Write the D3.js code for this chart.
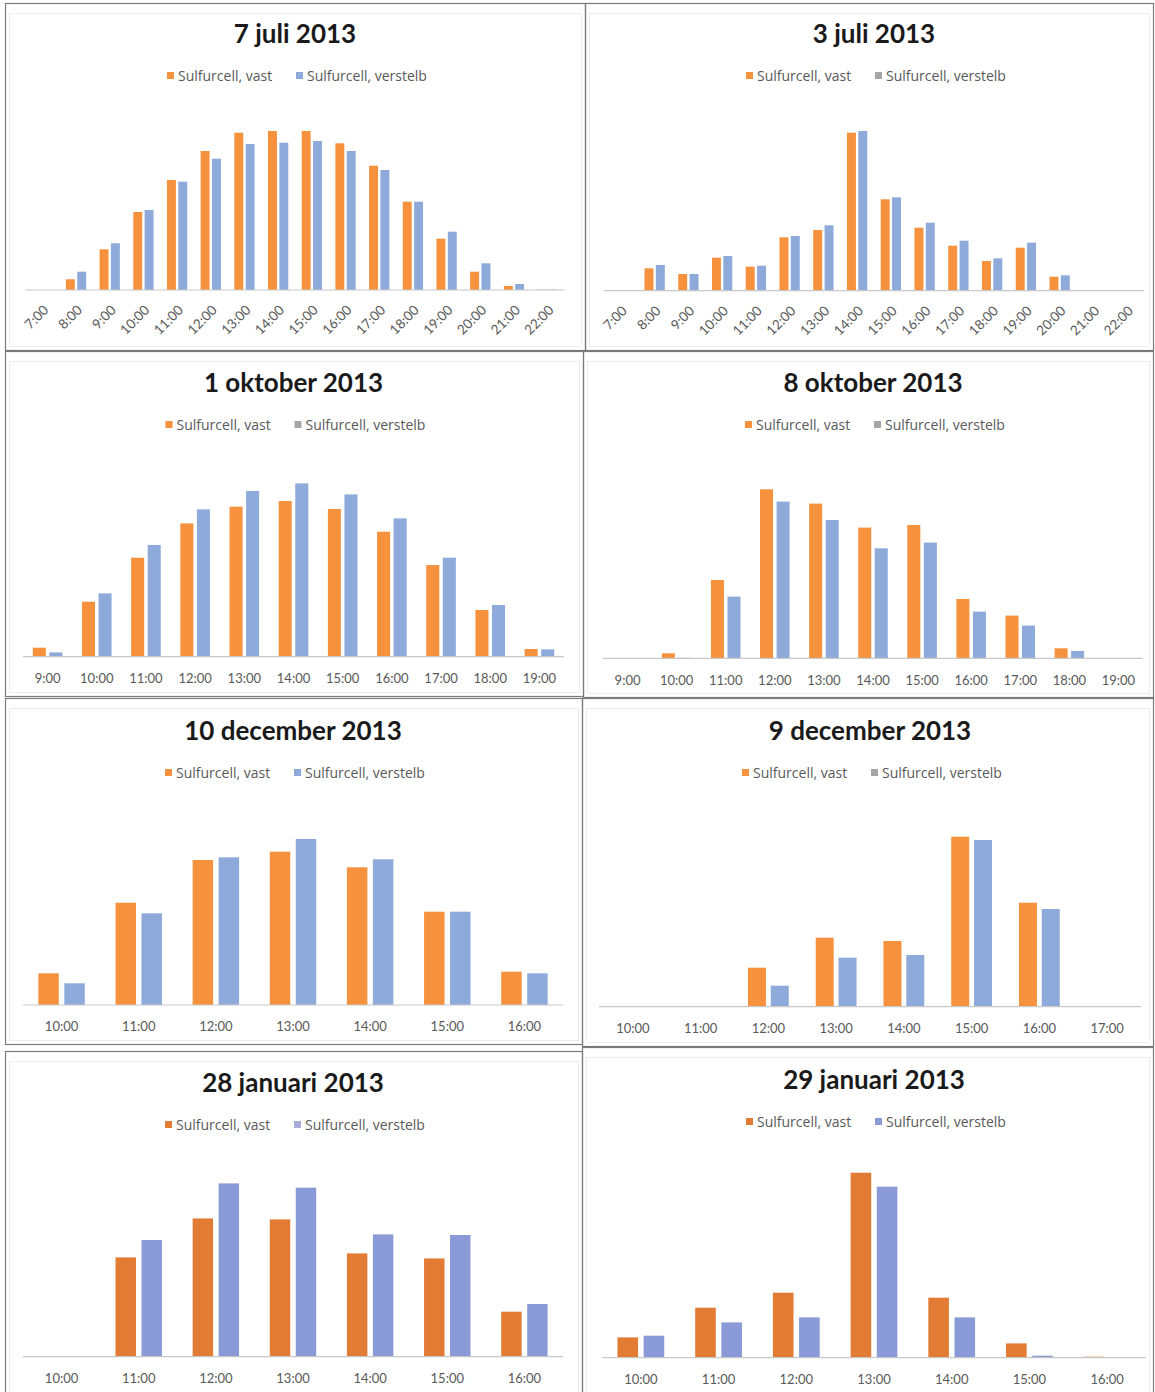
<!DOCTYPE html>
<html>
<head>
<meta charset="utf-8">
<script src="https://cdn.jsdelivr.net/npm/d3@7"></script>
<style>
  body { margin: 0; background: #fff; }
  svg { display: block; }
  .title { font-family: Lato, "Open Sans", sans-serif; font-weight: bold; fill: #1a1a1a; }
  .legend text { font-family: "Open Sans", Lato, sans-serif; fill: #595959; }
  .tick text { font-family: Lato, "Open Sans", sans-serif; fill: #595959; }
</style>
</head>
<body>
<svg id="page" width="1155" height="1392"></svg>
<script>
// series names
var seriesNames = ["Sulfurcell, vast", "Sulfurcell, verstelb"];

// hours on the category axes
var hoursJuli = ["7:00","8:00","9:00","10:00","11:00","12:00","13:00","14:00","15:00","16:00","17:00","18:00","19:00","20:00","21:00","22:00"];
var hoursOkt = ["9:00","10:00","11:00","12:00","13:00","14:00","15:00","16:00","17:00","18:00","19:00"];
var hoursDec10 = ["10:00","11:00","12:00","13:00","14:00","15:00","16:00"];
var hoursDec9 = ["10:00","11:00","12:00","13:00","14:00","15:00","16:00","17:00"];
var hoursJan = ["10:00","11:00","12:00","13:00","14:00","15:00","16:00"];

// values (relative units, no axis printed)
var vast7Juli     = [0, 10.7, 40.7, 78, 110, 139, 157.3, 159, 159, 146.7, 124.3, 88.3, 51.3, 18.3, 4, 0.3];
var verstelb7Juli = [0, 18.3, 46.7, 80, 108.3, 131.3, 146, 147.3, 149, 139, 120, 88.3, 58.3, 26.7, 6, 0.5];
var vast3Juli     = [0, 22.4, 16.7, 33, 24, 53.4, 60.7, 158, 91.4, 63, 45, 29.7, 43, 14, 0.5, 0];
var verstelb3Juli = [0, 25.7, 16.7, 34.7, 25, 54.7, 65.4, 159.7, 93.4, 68, 50, 32.4, 48, 15.4, 0.5, 0];
var vast1Okt      = [9, 55, 99, 133.3, 150, 155.7, 147.7, 125, 91.7, 46.7, 7.7];
var verstelb1Okt  = [4.3, 63.3, 111.7, 147.3, 165.7, 173.3, 162.3, 138.3, 99, 51.7, 7.3];
var vast8Okt      = [0, 5, 78.3, 169, 154.7, 130.7, 133.3, 59.3, 42.7, 10, 0];
var verstelb8Okt  = [0, 0.5, 61.7, 156.7, 138.3, 110, 115.7, 46.7, 32.7, 7.3, 0];
var vast10Dec     = [31.7, 102.3, 145, 153.3, 137.7, 93.3, 33.3];
var verstelb10Dec = [21.7, 91.7, 147.7, 166, 145.7, 93.3, 31.7];
var vast9Dec      = [0, 0, 39, 69, 65.7, 170, 104, 0.7];
var verstelb9Dec  = [0, 0, 21, 49, 51.7, 166.7, 97.7, 0.5];
var vast28Jan     = [0.5, 99.3, 138.3, 137.3, 103.3, 98.3, 45];
var verstelb28Jan = [0, 116.7, 173.3, 169, 122.3, 121.7, 52.7];
var vast29Jan     = [20.3, 50, 65, 185, 60, 14.3, 1];
var verstelb29Jan = [22, 35.3, 40.3, 171, 40.3, 2, 0.5];

var titles = ["7 juli 2013", "3 juli 2013", "1 oktober 2013", "8 oktober 2013",
              "10 december 2013", "9 december 2013", "28 januari 2013", "29 januari 2013"];

var yMax = 200;

// panel layout: frame box, plot x-range, axis baseline, title and legend rows
var panels = [
  {box:[5,3,585,350],     x0:25.5, x1:564.5, axis:290,    titleY:43,   legendY:76,   rotate:true,  cats:hoursJuli,  a:vast7Juli,  b:verstelb7Juli, pal:"light", key:"blue"},
  {box:[585,3,1153,350],  x0:604,  x1:1144,  axis:290.7,  titleY:43,   legendY:76,   rotate:true,  cats:hoursJuli,  a:vast3Juli,  b:verstelb3Juli, pal:"light", key:"gray"},
  {box:[5,351,583,696],   x0:23,   x1:564,   axis:656.7,  titleY:392,  legendY:425,  rotate:false, cats:hoursOkt,   a:vast1Okt,   b:verstelb1Okt,  pal:"light", key:"gray"},
  {box:[583,351,1153,697],x0:603,  x1:1143,  axis:658.3,  titleY:392,  legendY:425,  rotate:false, cats:hoursOkt,   a:vast8Okt,   b:verstelb8Okt,  pal:"light", key:"gray"},
  {box:[5,698,582,1044],  x0:23,   x1:563,   axis:1005,   titleY:740,  legendY:773,  rotate:false, cats:hoursDec10, a:vast10Dec,  b:verstelb10Dec, pal:"light", key:"blue"},
  {box:[582,698,1153,1046],x0:599, x1:1141,  axis:1006.7, titleY:740,  legendY:773,  rotate:false, cats:hoursDec9,  a:vast9Dec,   b:verstelb9Dec,  pal:"light", key:"gray"},
  {box:[5,1051,582,1400], x0:23,   x1:563,   axis:1356.7, titleY:1092, legendY:1125, rotate:false, cats:hoursJan,   a:vast28Jan,  b:verstelb28Jan, pal:"dark",  key:"lav"},
  {box:[582,1047,1153,1400],x0:602,x1:1146,  axis:1357.7, titleY:1089, legendY:1122, rotate:false, cats:hoursJan,   a:vast29Jan,  b:verstelb29Jan, pal:"dark",  key:"blue"}
];

var palettes = {
  light: ["#F6923D", "#8EAADB"],
  dark:  ["#E27B33", "#8A9AD7"]
};
var keyColors = {blue: null, gray: "#A6A6A6", lav: "#A9AED8"};

var svg = d3.select("#page");

panels.forEach(function(p, i){
  var g = svg.append("g");
  var colors = palettes[p.pal];
  var cx = (p.x0 + p.x1) / 2;

  // frame
  g.append("rect")
    .attr("x", p.box[0] + 0.5).attr("y", p.box[1] + 0.5)
    .attr("width", p.box[2] - p.box[0]).attr("height", p.box[3] - p.box[1])
    .attr("fill", "none").attr("stroke", "#7a7a7a").attr("stroke-width", 1.2);
  g.append("rect")
    .attr("x", p.box[0] + 4.5).attr("y", p.box[1] + 10.5)
    .attr("width", p.box[2] - p.box[0] - 8).attr("height", p.box[3] - p.box[1] - 14)
    .attr("fill", "none").attr("stroke", "#ececec");

  // title
  g.append("text").attr("class", "title")
    .attr("x", cx).attr("y", p.titleY)
    .attr("text-anchor", "middle").attr("font-size", 26)
    .text(titles[i]);

  // scales
  var x = d3.scaleBand().domain(p.cats).range([p.x0, p.x1])
    .paddingInner(0.398).paddingOuter(0.199);
  var xs = d3.scaleBand().domain([0, 1]).range([0, x.bandwidth()])
    .paddingInner(0.2126).paddingOuter(0);
  var y = d3.scaleLinear().domain([0, yMax]).range([p.axis, p.axis - yMax]);

  // bars
  var rows = p.cats.map(function(c, k){ return {cat: c, vals: [p.a[k], p.b[k]]}; });
  var grp = g.selectAll("g.cat").data(rows).enter().append("g")
    .attr("class", "cat")
    .attr("transform", function(d){ return "translate(" + x(d.cat) + ",0)"; });
  grp.selectAll("rect").data(function(d){ return d.vals; }).enter().append("rect")
    .attr("x", function(d, s){ return xs(s); })
    .attr("y", function(d){ return y(d); })
    .attr("width", xs.bandwidth())
    .attr("height", function(d){ return y(0) - y(d); })
    .attr("fill", function(d, s){ return colors[s]; });

  // category axis
  var axis = d3.axisBottom(x).tickSize(0).tickPadding(p.rotate ? 8 : 17);
  var ag = g.append("g").attr("transform", "translate(0," + p.axis + ")").call(axis);
  ag.select(".domain").attr("stroke", "#c8c8c8").attr("stroke-width", 1.2)
    .attr("d", "M" + p.x0 + ",0H" + p.x1);
  ag.selectAll(".tick text").attr("font-size", 13).attr("fill", "#595959");
  if(p.rotate){
    ag.selectAll(".tick text")
      .attr("text-anchor", "end")
      .attr("dy", "0.35em")
      .attr("font-size", 13.5)
      .attr("transform", "translate(-2,12) rotate(-45)");
  }

  // legend
  var lg = g.append("g").attr("class", "legend");
  var lx = cx - 128;
  var keys = [colors[0], keyColors[p.key] || colors[1]];
  [0, 1].forEach(function(s){
    var ox = lx + s * 129;
    lg.append("rect").attr("x", ox).attr("y", p.legendY - 4)
      .attr("width", 7).attr("height", 7).attr("fill", keys[s]);
    lg.append("text").attr("x", ox + 11).attr("y", p.legendY + 5)
      .attr("font-size", 14).text(seriesNames[s]);
  });
});
</script>
</body>
</html>
